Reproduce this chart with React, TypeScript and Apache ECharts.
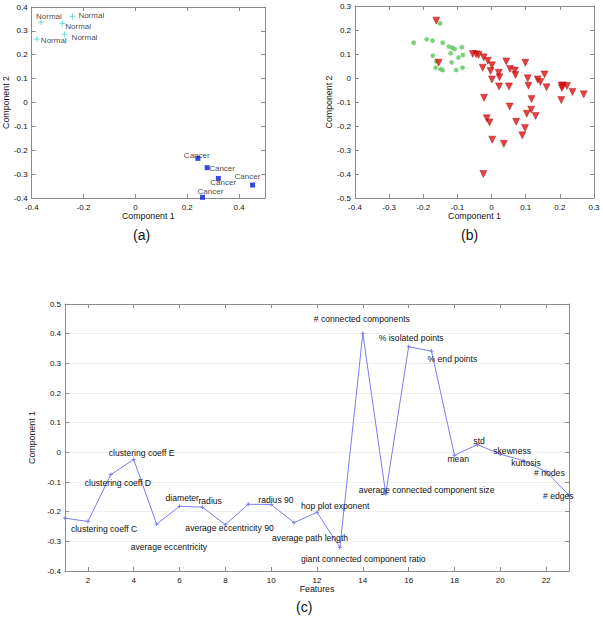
import { useEffect, useRef } from "react";
import * as echarts from "echarts";

// Panel (a)
const normalPoints = [
  [-0.364, 0.337],
  [-0.243, 0.361],
  [-0.282, 0.331],
  [-0.273, 0.285],
  [-0.38, 0.266],
];
const cancerPoints = [
  [0.241, -0.234],
  [0.277, -0.273],
  [0.32, -0.318],
  [0.452, -0.346],
  [0.259, -0.397],
];
const normalLabel = "Normal";
const cancerLabel = "Cancer";
const normalLabelOffsets = [[-5, -6], [6, -1], [3, 3], [7, 3], [4, 2]];
const cancerLabelOffsets = [[-14, -3], [2, 1], [-8, 4], [-18, -9], [-5, -6]];
const aXTicks = [-0.4, -0.2, 0, 0.2, 0.4];

// Panel (b)
const greenPoints = [
  [-0.228, 0.147], [-0.19, 0.161], [-0.173, 0.156], [-0.143, 0.147], [-0.125, 0.131],
  [-0.115, 0.126], [-0.108, 0.121], [-0.087, 0.128], [-0.12, 0.103], [-0.084, 0.096],
  [-0.097, 0.085], [-0.172, 0.093], [-0.162, 0.069], [-0.117, 0.065], [-0.164, 0.043],
  [-0.15, 0.037], [-0.143, 0.033], [-0.104, 0.033], [-0.085, 0.043], [-0.151, 0.228],
];
const redPoints = [
  [-0.162, 0.239], [-0.155, 0.064], [-0.055, 0.1], [-0.045, 0.099], [-0.038, 0.096],
  [-0.023, 0.086], [-0.011, 0.072], [0.001, 0.053], [-0.026, 0.043], [-0.003, 0.029],
  [0.001, -0.006], [0.021, 0.022], [0.023, 0.003], [0.022, -0.035], [0.043, 0.069],
  [0.054, 0.038], [0.068, 0.031], [0.07, 0.013], [0.099, 0.064], [0.106, -0.001],
  [0.108, -0.032], [0.051, -0.035], [-0.022, -0.082], [0.117, -0.088], [0.135, -0.006],
  [0.143, -0.017], [0.155, 0.015], [0.161, -0.039], [0.205, -0.032], [0.209, -0.031],
  [0.221, -0.033], [0.237, -0.058], [0.27, -0.068], [0.204, -0.092], [0.053, -0.119],
  [0.116, -0.132], [0.103, -0.149], [0.129, -0.158], [-0.014, -0.168], [-0.006, -0.185],
  [0.072, -0.182], [0.098, -0.208], [0.09, -0.239], [0.002, -0.257], [0.036, -0.274],
  [-0.024, -0.4], [0.206, -0.042],
];

// Panel (c)
const features = [1, 2, 3, 4, 5, 6, 7, 8, 9, 10, 11, 12, 13, 14, 15, 16, 17, 18, 19, 20, 21, 22, 23];
const component1 = [
  -0.222, -0.233, -0.075, -0.024, -0.242, -0.182, -0.185, -0.244, -0.175, -0.176, -0.237,
  -0.202, -0.321, 0.401, -0.14, 0.356, 0.341, -0.01, 0.026, -0.006, -0.028, -0.065, -0.144,
];
const featureNames = [
  "", "clustering coeff C", "clustering coeff D", "clustering coeff E", "average eccentricity",
  "diameter", "radius", "average eccentricity 90", "radius 90", "", "average path length",
  "hop plot exponent", "giant connected component ratio", "# connected components",
  "average connected component size", "% isolated points", "% end points", "mean", "std",
  "skewness", "kurtosis", "# nodes", "# edges",
];
const featureLabelOffsets = [
  [0, 0], [-17, 8], [-26, 8], [-25, -6], [-26, 23], [-14, -8], [-4, -6], [-40, 3], [10, -4],
  [0, 0], [-22, 15], [-16, -6], [-39, 11], [-49, -14], [-27, -4], [-30, -9], [-4, 8], [-7, 4],
  [-4, -4], [-7, -3], [-12, 2], [-12, 1], [-26, 1],
];
const cXTicks = [2, 4, 6, 8, 10, 12, 14, 16, 18, 20, 22];

const FONT = "'Liberation Sans', Arial, sans-serif";
const AXIS_COLOR = "#8c8c8c";
const PLUS = "path://M5,0L5,10M0,5L10,5";
const STAR = "path://M5,0L5,10M0,5L10,5M1.5,1.5L8.5,8.5M8.5,1.5L1.5,8.5";

function xAxes(gridIndex: number, min: number, max: number, ticks: number[] | null, interval: number | null, name: string, nameGap: number) {
  const tickCfg: any = { show: true, inside: true, length: 4, lineStyle: { color: AXIS_COLOR } };
  const labelCfg: any = { color: "#111", fontSize: 8, fontFamily: FONT, margin: 5 };
  if (ticks) {
    tickCfg.customValues = ticks;
    labelCfg.customValues = ticks;
  }
  const base: any = {
    type: "value",
    gridIndex,
    min,
    max,
    splitLine: { show: false },
    axisLine: { show: true, onZero: false, lineStyle: { color: AXIS_COLOR } },
  };
  if (interval != null) base.interval = interval;
  return [
    {
      ...base,
      position: "bottom",
      name,
      nameLocation: "middle",
      nameGap,
      nameTextStyle: { color: "#111", fontSize: 8.8, fontFamily: FONT },
      axisTick: tickCfg,
      axisLabel: labelCfg,
    },
    {
      ...base,
      position: "top",
      axisTick: tickCfg,
      axisLabel: { show: false },
    },
  ];
}

function yAxes(gridIndex: number, min: number, max: number, interval: number, name: string, nameGap: number, grid: boolean) {
  const base: any = {
    type: "value",
    gridIndex,
    min,
    max,
    interval,
    axisLine: { show: true, onZero: false, lineStyle: { color: AXIS_COLOR } },
    axisTick: { show: true, inside: true, length: 4, lineStyle: { color: AXIS_COLOR } },
  };
  return [
    {
      ...base,
      position: "left",
      name,
      nameLocation: "middle",
      nameGap,
      nameTextStyle: { color: "#111", fontSize: 8.8, fontFamily: FONT },
      axisLabel: { color: "#111", fontSize: 8, fontFamily: FONT, margin: 4 },
      splitLine: { show: grid, lineStyle: { color: "#efefef", width: 1 } },
    },
    {
      ...base,
      position: "right",
      axisLabel: { show: false },
      splitLine: { show: false },
    },
  ];
}

function labelled(points: number[][], text: string, offsets: number[][]) {
  return points.map((p, i) => ({
    value: p,
    name: text,
    label: { offset: offsets[i] },
  }));
}

export default function App() {
  const ref = useRef<HTMLDivElement>(null);
  useEffect(() => {
    if (!ref.current) return;
    const chart = echarts.init(ref.current, undefined, { renderer: "svg" });
    const pointLabel = {
      show: true,
      position: "inside",
      align: "left",
      verticalAlign: "middle",
      formatter: "{b}",
      color: "#111",
      textBorderWidth: 0,
      textBorderColor: "transparent",
      fontFamily: FONT,
    };
    chart.setOption({
      animation: false,
      backgroundColor: "#fff",
      grid: [
        { left: 28, top: 7, width: 237, height: 191 },
        { left: 355, top: 6, width: 239, height: 192 },
        { left: 65, top: 304, width: 504, height: 267 },
      ],
      xAxis: [
        ...xAxes(0, -0.4, 0.5, aXTicks, null, "Component 1", 13),
        ...xAxes(1, -0.4, 0.3, null, 0.1, "Component 1", 13),
        ...xAxes(2, 1, 23, cXTicks, null, "Features", 12),
      ],
      yAxis: [
        ...yAxes(0, -0.4, 0.4, 0.1, "Component 2", 19, false),
        ...yAxes(1, -0.5, 0.3, 0.1, "Component 2", 21, false),
        ...yAxes(2, -0.4, 0.5, 0.1, "Component 1", 21, true),
      ],
      graphic: [
        { type: "text", left: 133, top: 228, style: { text: "(a)", fontSize: 14, fontFamily: FONT, fill: "#111" } },
        { type: "text", left: 461, top: 228, style: { text: "(b)", fontSize: 14, fontFamily: FONT, fill: "#111" } },
        { type: "text", left: 296, top: 600, style: { text: "(c)", fontSize: 14, fontFamily: FONT, fill: "#111" } },
      ],
      series: [
        {
          type: "scatter",
          xAxisIndex: 0,
          yAxisIndex: 0,
          symbol: PLUS,
          symbolSize: 6,
          itemStyle: { color: "none", borderColor: "#4fd8e0", borderWidth: 1 },
          label: { ...pointLabel, fontSize: 8 },
          data: labelled(normalPoints, normalLabel, normalLabelOffsets),
        },
        {
          type: "scatter",
          xAxisIndex: 0,
          yAxisIndex: 0,
          symbol: "rect",
          symbolSize: 5,
          itemStyle: { color: "#0a1bd6" },
          label: { ...pointLabel, fontSize: 8 },
          data: labelled(cancerPoints, cancerLabel, cancerLabelOffsets),
        },
        {
          type: "scatter",
          xAxisIndex: 2,
          yAxisIndex: 2,
          symbol: STAR,
          symbolSize: 5,
          itemStyle: { color: "none", borderColor: "#5cc45c", borderWidth: 1.2 },
          data: greenPoints,
        },
        {
          type: "scatter",
          xAxisIndex: 2,
          yAxisIndex: 2,
          symbol: "triangle",
          symbolRotate: 180,
          symbolSize: 7,
          itemStyle: { color: "#e01010", borderColor: "#a00000", borderWidth: 0.5 },
          data: redPoints,
        },
        {
          type: "line",
          xAxisIndex: 4,
          yAxisIndex: 4,
          symbol: PLUS,
          symbolSize: 4,
          showAllSymbol: true,
          lineStyle: { color: "#7d7df0", width: 1 },
          itemStyle: { color: "none", borderColor: "#7d7df0", borderWidth: 1 },
          label: { ...pointLabel, fontSize: 8.6 },
          data: features.map((f, i) => ({
            value: [f, component1[i]],
            name: featureNames[i],
            label: { show: featureNames[i] !== "", offset: featureLabelOffsets[i] },
          })),
        },
      ],
    });
    return () => chart.dispose();
  }, []);
  return (
    <div
      ref={ref}
      style={{ position: "absolute", left: 0, top: 0, width: 603, height: 619 }}
    />
  );
}
